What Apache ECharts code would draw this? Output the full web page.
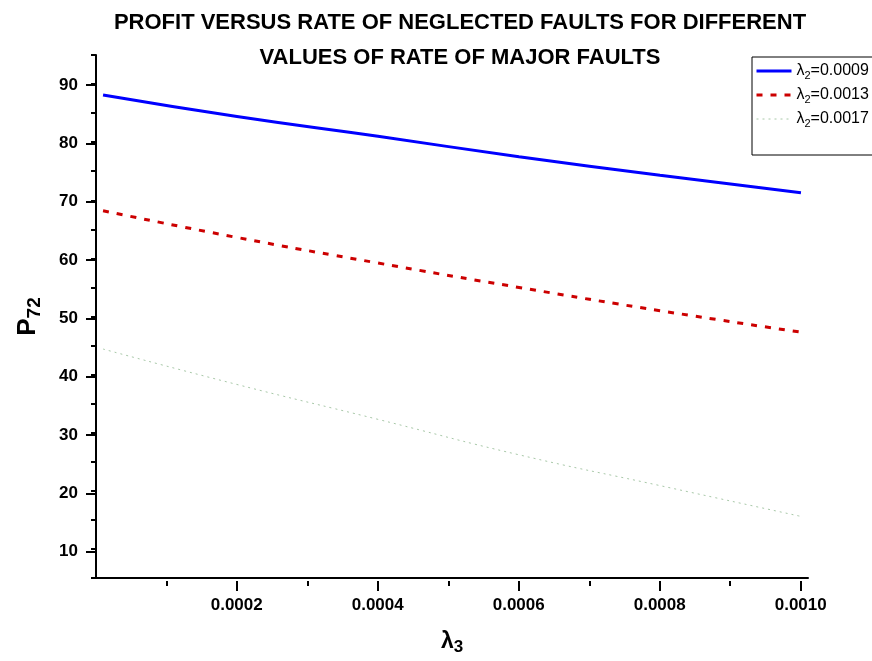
<!DOCTYPE html>
<html>
<head>
<meta charset="utf-8">
<script src="https://cdn.jsdelivr.net/npm/echarts@6/dist/echarts.min.js"></script>
<style>html,body{margin:0;padding:0;background:#fff}#c{width:872px;height:661px}</style>
</head>
<body>
<div id="c"></div>
<script>
// data
const lambda3 = [0.00001, 0.0002, 0.0004, 0.0006, 0.0008, 0.0010];
const seriesNames = ['0.0009', '0.0013', '0.0017'];
const p72_l2_0009 = [88.1, 84.4, 81.0, 77.5, 74.3, 71.3];
const p72_l2_0013 = [68.2, 63.6, 59.2, 55.0, 51.0, 47.3];
const p72_l2_0017 = [44.4, 38.3, 32.3, 26.2, 20.9, 15.6];
const titleLines = ['PROFIT VERSUS RATE OF NEGLECTED FAULTS FOR DIFFERENT', 'VALUES OF RATE OF MAJOR FAULTS'];

const font = '"Liberation Sans", Arial, sans-serif';
const pairs = arr => lambda3.map((x, i) => [x, arr[i]]);
const colors = ['#0000ff', '#cc0000', '#a8c8a8'];
const lineStyles = [
  {color: colors[0], width: 3, type: 'solid'},
  {color: colors[1], width: 3, type: [6, 8]},
  {color: colors[2], width: 1, type: [2, 4]}
];

const chart = echarts.init(document.getElementById('c'), null, {renderer: 'canvas'});
chart.setOption({
  backgroundColor: '#fff',
  animation: false,
  textStyle: {fontFamily: font},
  title: {
    text: titleLines.join('\n'),
    left: 455, top: 0, textAlign: 'center',
    textStyle: {fontFamily: font, fontWeight: 'bold', fontSize: 22, color: '#000', lineHeight: 35}
  },
  legend: {
    orient: 'vertical', left: 755, top: 63, padding: 0, itemWidth: 35, itemHeight: 14, itemGap: 6,
    data: seriesNames.map((n, i) => ({name: n, lineStyle: lineStyles[i]})),
    itemStyle: {opacity: 0},
    formatter: n => '{a|λ}{s|2}{a|=' + n + '}',
    textStyle: {
      fontFamily: font, color: '#000', fontSize: 16,
      rich: {
        a: {fontFamily: font, fontSize: 16, color: '#000'},
        s: {fontFamily: font, fontSize: 11, color: '#000', padding: [9, 0, 0, 0]}
      }
    }
  },
  graphic: [{
    type: 'rect', shape: {x: 752, y: 57, width: 130, height: 98},
    style: {fill: 'none', stroke: '#000', lineWidth: 1}, z: 100
  }],
  grid: [
    {left: 96, right: 64, top: 55, bottom: 80},
    {left: 96, right: 64, top: 85, bottom: 109.3},
    {left: 166.4, right: 71.3, top: 55, bottom: 80},
    {left: 236.7, right: 71.3, top: 55, bottom: 80}
  ],
  xAxis: [
    {gridIndex: 0, type: 'value', min: 0, max: 0.00101, position: 'bottom',
      axisLine: {show: true, lineStyle: {color: '#000', width: 2}},
      axisTick: {show: false}, axisLabel: {show: false}, splitLine: {show: false},
      name: '{a|λ}{s|3}', nameLocation: 'middle', nameGap: 49,
      nameTextStyle: {rich: {
        a: {fontFamily: font, fontSize: 23, fontWeight: 'bold', color: '#000'},
        s: {fontFamily: font, fontSize: 17, fontWeight: 'bold', color: '#000', padding: [12, 0, 0, 0]}
      }}
    },
    {gridIndex: 1, type: 'value', show: false, min: 0, max: 1},
    {gridIndex: 2, type: 'value', min: 0.0001, max: 0.001, interval: 0.0001, position: 'bottom',
      axisLine: {show: false},
      axisTick: {show: true, length: 5, lineStyle: {color: '#000', width: 2}},
      axisLabel: {show: false}, splitLine: {show: false}},
    {gridIndex: 3, type: 'value', min: 0.0002, max: 0.001, interval: 0.0002, position: 'bottom',
      axisLine: {show: false},
      axisTick: {show: true, length: 10, lineStyle: {color: '#000', width: 2}},
      axisLabel: {show: true, margin: 16, fontFamily: font, fontWeight: 'bold', fontSize: 17, color: '#000',
        formatter: v => v.toFixed(4)},
      splitLine: {show: false}}
  ],
  yAxis: [
    {gridIndex: 0, type: 'value', min: 5, max: 95, interval: 5, position: 'left',
      axisLine: {show: true, lineStyle: {color: '#000', width: 2}},
      axisTick: {show: true, length: 5, lineStyle: {color: '#000', width: 2}},
      axisLabel: {show: false}, splitLine: {show: false},
      name: '{a|P}{s|72}', nameLocation: 'middle', nameGap: 52, nameRotate: 90,
      nameTextStyle: {rich: {
        a: {fontFamily: font, fontSize: 26, fontWeight: 'bold', color: '#000'},
        s: {fontFamily: font, fontSize: 19, fontWeight: 'bold', color: '#000', padding: [13, 0, 0, 0]}
      }}
    },
    {gridIndex: 1, type: 'value', min: 10, max: 90, interval: 10, position: 'left',
      axisLine: {show: false},
      axisTick: {show: true, length: 10, lineStyle: {color: '#000', width: 2}},
      axisLabel: {show: true, margin: 18, fontFamily: font, fontWeight: 'bold', fontSize: 17, color: '#000'},
      splitLine: {show: false}},
    {gridIndex: 2, type: 'value', show: false, min: 0, max: 1},
    {gridIndex: 3, type: 'value', show: false, min: 0, max: 1}
  ],
  series: seriesNames.map((n, i) => ({
    name: n, type: 'line', xAxisIndex: 0, yAxisIndex: 0,
    data: pairs([p72_l2_0009, p72_l2_0013, p72_l2_0017][i]),
    smooth: true, symbol: 'none', lineStyle: lineStyles[i], itemStyle: {color: colors[i]}
  }))
});
</script>
</body>
</html>
